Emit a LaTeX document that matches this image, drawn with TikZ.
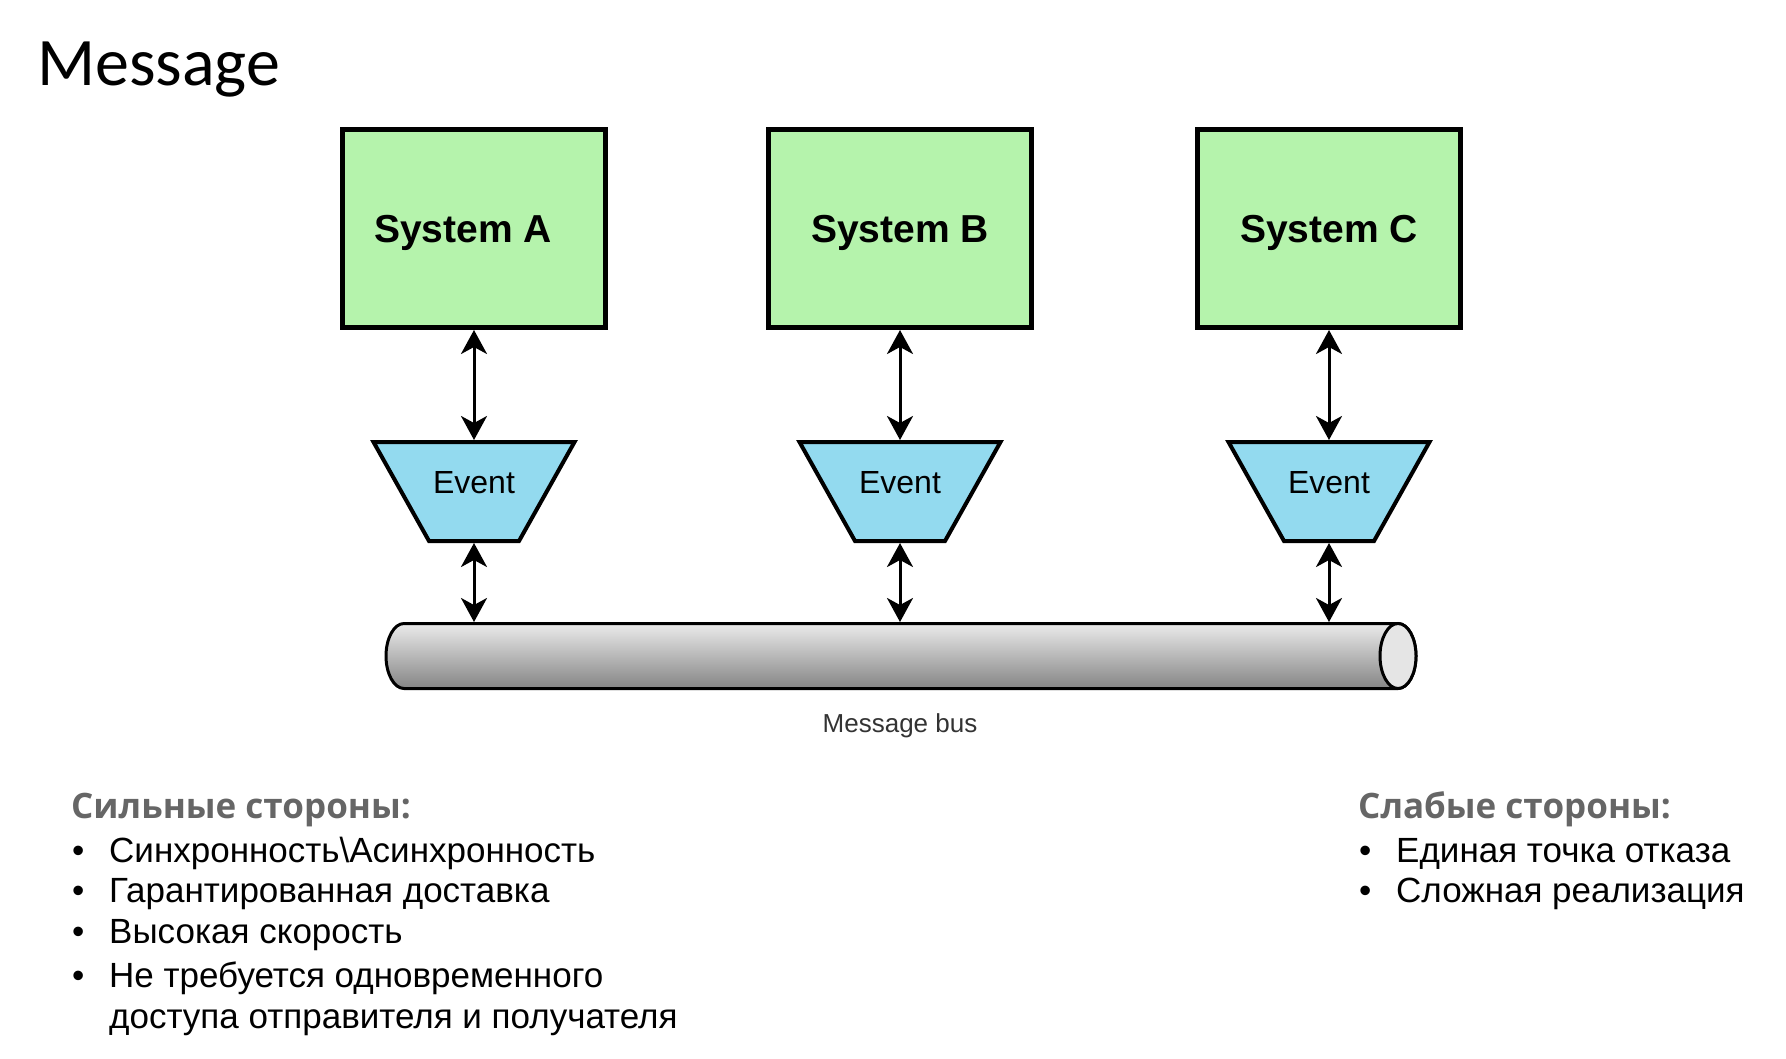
\documentclass[tikz,border=0pt]{standalone}
\usepackage{fontspec}
\setmainfont{Liberation Sans}
\newfontfamily\titlefont{Carlito}
\newfontfamily\headfont{Open Sans}
\usetikzlibrary{arrows.meta,backgrounds,calc}
\definecolor{sysgreen}{RGB}{181,243,172}
\definecolor{evblue}{RGB}{147,218,239}
\definecolor{headgray}{RGB}{102,102,102}
\begin{document}
\begin{tikzpicture}[x=1pt,y=-1pt,
  sysbox/.style={draw, line width=5pt, fill=sysgreen, minimum width=263pt, minimum height=198pt, inner sep=0pt, outer sep=2.5pt, text height=28pt, text depth=0pt, font=\fontsize{39}{44}\selectfont\bfseries},
  evnode/.style={inner sep=0pt, outer sep=2pt, minimum width=201pt, minimum height=99pt, text height=23pt, text depth=20pt, font=\fontsize{32}{38}\selectfont},
  trap/.style={draw, line width=4pt, fill=evblue, line join=miter},
  tipS/.tip={Stealth[length=24pt,width=26pt,inset=7pt]},
  dbl/.style={line width=3pt, tipS-tipS},
  heading/.style={anchor=base west, inner sep=0pt, font=\headfont\bfseries\fontsize{35}{40}\selectfont, text=headgray},
  item/.style={anchor=base west, inner sep=0pt, font=\fontsize{35}{40}\selectfont},
  bus/.style={line width=3pt, top color=black!8, middle color=black!24, bottom color=black!48}
]
\useasboundingbox (0,0) rectangle (1786,1058);

% title
\node[anchor=base west, inner sep=0pt, font=\titlefont\fontsize{68}{80}\selectfont] (title) at (37,85) {Message};

% systems
\node[sysbox] (sysA) at (474,228.5) {System A\kern22pt};
\node[sysbox] (sysB) at (900,228.5) {System B};
\node[sysbox] (sysC) at (1329,228.5) {System C};

% events
\foreach \n/\x in {evA/474, evB/900, evC/1329}{
  \node[evnode] (\n) at (\x,491.5) {Event};
}
\begin{scope}[on background layer]
\foreach \n in {evA, evB, evC}{
  \draw[trap] ($(\n.center)+(-100.5,-49.5)$) -- ($(\n.center)+(100.5,-49.5)$)
     -- ($(\n.center)+(45,49.5)$) -- ($(\n.center)+(-45,49.5)$) -- cycle;
}
\end{scope}

% bus
\node[minimum width=1013pt, minimum height=67pt, inner sep=0pt, outer sep=0pt] (bus) at (891.5,655.5) {};
\path[bus, draw] (1398,623.5) -- (404,623.5)
   arc[start angle=90, end angle=270, x radius=18pt, y radius=32.5pt]
   -- (1398,688.5)
   arc[start angle=270, end angle=450, x radius=18pt, y radius=32.5pt] -- cycle;
\draw[line width=3pt, fill=black!10] (1398,656) ellipse [x radius=18pt, y radius=32.5pt];
\node[anchor=base, inner sep=0pt, font=\fontsize{26}{30}\selectfont, text=black!80] (buslbl) at (900,732) {Message bus};

% connectors
\foreach \s/\e in {sysA/evA, sysB/evB, sysC/evC}{
  \draw[dbl] (\s.south) -- (\e.north);
  \draw[dbl] (\e.south) -- (\e.south |- bus.north);
}

% strengths
\node[heading] (strongh) at (71,818) {Сильные стороны:};
\node[item] (sb1) at (72,862) {•};
\node[item] (s1) at (109,862) {Синхронность\textbackslash Асинхронность};
\node[item] (sb2) at (72,902) {•};
\node[item] (s2) at (109,902) {Гарантированная доставка};
\node[item] (sb3) at (72,943) {•};
\node[item] (s3) at (109,943) {Высокая скорость};
\node[item] (sb4) at (72,987) {•};
\node[item] (s4) at (109,987) {Не требуется одновременного};
\node[item] (s5) at (109,1028) {доступа отправителя и получателя};

% weaknesses
\node[heading] (weakh) at (1358,818) {Слабые стороны:};
\node[item] (wb1) at (1359,862) {•};
\node[item] (w1) at (1396,862) {Единая точка отказа};
\node[item] (wb2) at (1359,902) {•};
\node[item] (w2) at (1396,902) {Сложная реализация};
\end{tikzpicture}
\end{document}
